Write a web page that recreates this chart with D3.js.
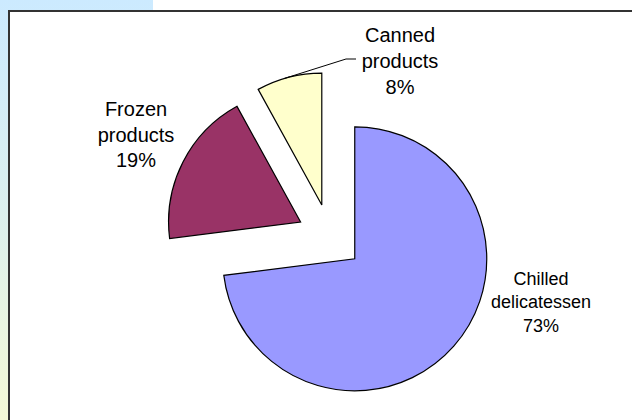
<!DOCTYPE html>
<html>
<head>
<meta charset="utf-8">
<script src="https://cdn.jsdelivr.net/npm/d3@7/dist/d3.min.js"></script>
<style>
  html, body { margin: 0; padding: 0; background: #ffffff; }
  svg { display: block; }
  text { font-family: "Liberation Sans", Arial, sans-serif; fill: #000; }
</style>
</head>
<body>
<svg id="chart" width="632" height="420"></svg>
<script>
// Product categories and their share of sales (%)
const categories = ["Chilled delicatessen", "Frozen products", "Canned products"];
const shares = [73, 19, 8];
const sliceColors = ["#9999ff", "#993366", "#ffffcc"];

const width = 632, height = 420;
const svg = d3.select("#chart");

// Side panel gradient behind the plot frame
const defs = svg.append("defs");
const grad = defs.append("linearGradient")
  .attr("id", "panelGrad").attr("x1", 0).attr("y1", 0).attr("x2", 0).attr("y2", 1);
grad.append("stop").attr("offset", "0%").attr("stop-color", "#cceaff");
grad.append("stop").attr("offset", "50%").attr("stop-color", "#dcf0ee");
grad.append("stop").attr("offset", "100%").attr("stop-color", "#f4f9d6");

svg.append("rect").attr("x", 0).attr("y", 0).attr("width", 153).attr("height", height)
  .attr("fill", "url(#panelGrad)");

// Plot frame
svg.append("rect")
  .attr("x", 9).attr("y", 11)
  .attr("width", width + 20).attr("height", height + 20)
  .attr("fill", "#ffffff")
  .attr("stroke", "#333333").attr("stroke-width", 2);

// Pie layout: clockwise from 12 o'clock, data order preserved
const cx = 330, cy = 237;
const radius = 132;
const explode = 33;

const pie = d3.pie().sort(null).startAngle(0).endAngle(2 * Math.PI);
const arcs = pie(shares);
const arc = d3.arc().innerRadius(0).outerRadius(radius);

const g = svg.append("g").attr("transform", `translate(${cx},${cy})`);

g.selectAll("path.slice")
  .data(arcs)
  .join("path")
  .attr("class", "slice")
  .attr("transform", d => {
    const mid = (d.startAngle + d.endAngle) / 2;
    return `translate(${explode * Math.sin(mid)},${-explode * Math.cos(mid)})`;
  })
  .attr("d", arc)
  .attr("fill", (d, i) => sliceColors[i])
  .attr("stroke", "#000")
  .attr("stroke-width", 1.2)
  .attr("stroke-linejoin", "miter");

// Label placement (center x, first baseline y, line step, font size)
const labelLayout = [
  { x: 541, y: 284.5, step: 23.5, size: 18 },
  { x: 136, y: 116, step: 25.5, size: 20 },
  { x: 400, y: 42, step: 26, size: 20 }
];

const labels = svg.append("g");
categories.forEach((cat, i) => {
  const lines = cat.split(" ").concat([shares[i] + "%"]);
  const L = labelLayout[i];
  const t = labels.append("text")
    .attr("text-anchor", "middle")
    .attr("font-size", L.size);
  lines.forEach((ln, k) => {
    t.append("tspan").attr("x", L.x).attr("y", L.y + k * L.step).text(ln);
  });
});

// Leader line from the canned slice to its label
const canned = arcs[2];
const cMid = (canned.startAngle + canned.endAngle) / 2;
const ex = cx + explode * Math.sin(cMid), ey = cy - explode * Math.cos(cMid);
const a0 = canned.startAngle + (canned.endAngle - canned.startAngle) * 0.43;
const px = ex + radius * Math.sin(a0), py = ey - radius * Math.cos(a0);
svg.append("path")
  .attr("d", d3.line()([[px, py], [346, 59], [356, 59]]))
  .attr("fill", "none")
  .attr("stroke", "#000")
  .attr("stroke-width", 1);
</script>
</body>
</html>
